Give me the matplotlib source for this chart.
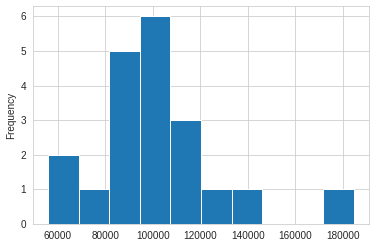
import matplotlib.pyplot as plt
import seaborn as sns

#Histogram bins
bin_edges = [55960, 68820, 81680, 94540, 107400, 120260, 133120, 145980, 158840, 171700, 184560]
counts = [2, 1, 5, 6, 3, 1, 1, 0, 0, 1]
x_ticks = [60000, 80000, 100000, 120000, 140000, 160000, 180000]

sns.set_style("whitegrid")
plt.rcParams['font.family'] = ['Liberation Sans', 'DejaVu Sans']

fig = plt.figure(figsize=(374 / 72, 247 / 72), dpi=72)
ax = fig.add_axes([33 / 374, 1 - 224 / 247, 336 / 374, 218 / 247])

ax.hist(bin_edges[:-1], bins=bin_edges, weights=counts, color='#1f77b4',
        edgecolor='white', linewidth=1.0)
ax.set_xticks(x_ticks)
ax.set_xticklabels([str(t) for t in x_ticks])
ax.set_ylabel("Frequency", fontsize=10)
ax.tick_params(labelsize=10, colors='#262626')
ax.margins(x=0.05)
ax.set_ylim(0, 6.3)

fig.savefig("out.png", dpi=72)
